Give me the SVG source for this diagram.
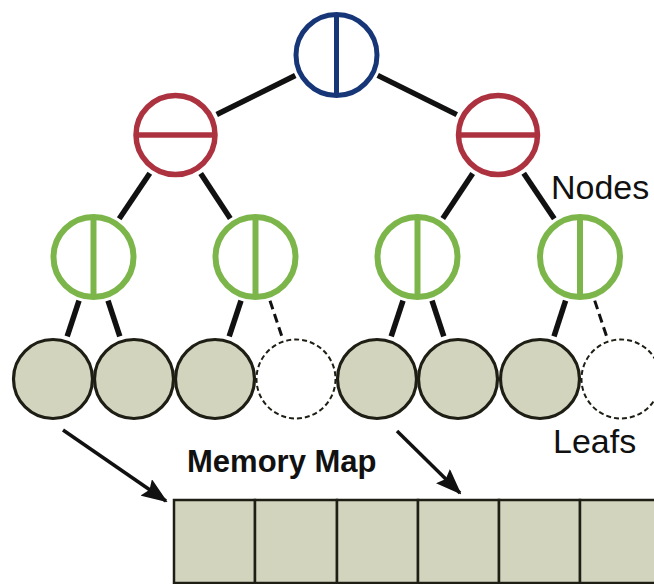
<svg xmlns="http://www.w3.org/2000/svg" width="654" height="584" viewBox="0 0 654 584">
  <style>
    .edge { stroke: #111; stroke-width: 5.5; fill: none; stroke-linecap: butt; }
    .edge.dash { stroke-width: 3; stroke-dasharray: 9 5; }
    .root { fill: #fff; stroke: #173678; stroke-width: 5; }
    .mid { fill: #fff; stroke: #ad323f; stroke-width: 5.5; }
    .low { fill: #fff; stroke: #7cb64a; stroke-width: 6; }
    .leaf { fill: #d3d4be; stroke: #1e1e14; stroke-width: 3.2; }
    .leaf.empty { fill: #fff; stroke-width: 2; stroke-dasharray: 5 3; }
    .cell { fill: #d3d4be; stroke: #1e1e14; stroke-width: 2.5; }
    .arrow { stroke: #111; stroke-width: 3.5; fill: none; marker-end: url(#head); }
    .label { font-family: "Liberation Sans", Arial, sans-serif; fill: #111; }
  </style>
  <defs>
    <marker id="head" viewBox="0 0 26 20" refX="24" refY="10" markerWidth="26" markerHeight="20" orient="auto" markerUnits="userSpaceOnUse">
      <path d="M0,0 L26,10 L0,20 L4,10 Z" fill="#111"/>
    </marker>
  </defs>

  <rect width="654" height="584" fill="#fff"/>

  <!-- tree edges -->
  <g id="connectors">
    <line class="edge" x1="295.3" y1="75.5" x2="216.7" y2="114.5"/>
    <line class="edge" x1="377.7" y1="75.4" x2="456.8" y2="114.6"/>
    <line class="edge" x1="149.8" y1="173.2" x2="119.2" y2="218.8"/>
    <line class="edge" x1="200.7" y1="173.5" x2="230.3" y2="218.5"/>
    <line class="edge" x1="472.7" y1="173.4" x2="442.8" y2="218.6"/>
    <line class="edge" x1="523.7" y1="173.2" x2="554.3" y2="218.8"/>
    <line class="edge" x1="79" y1="300.7" x2="67.2" y2="336.3"/>
    <line class="edge" x1="108" y1="300.7" x2="119.8" y2="336.3"/>
    <line class="edge" x1="241" y1="300.7" x2="229.2" y2="336.3"/>
    <line class="edge dash" x1="270" y1="300.7" x2="281.8" y2="336.3"/>
    <line class="edge" x1="403" y1="300.7" x2="391.2" y2="336.3"/>
    <line class="edge" x1="432" y1="300.7" x2="443.8" y2="336.3"/>
    <line class="edge" x1="565.6" y1="300.7" x2="554" y2="336.3"/>
    <line class="edge dash" x1="594.7" y1="300.6" x2="606.6" y2="336.3"/>
    <line class="arrow" x1="63" y1="430" x2="166" y2="501"/>
    <line class="arrow" x1="397" y1="431" x2="460" y2="493"/>
  </g>

  <!-- root -->
  <g id="root">
    <circle class="root" cx="336.5" cy="55" r="40.5"/>
    <line class="root" x1="336.5" y1="14.5" x2="336.5" y2="95.5"/>
  </g>

  <!-- second level -->
  <g id="node-l">
    <circle class="mid" cx="175.5" cy="135" r="39.5"/>
    <line class="mid" x1="136" y1="135" x2="215" y2="135"/>
  </g>
  <g id="node-r">
    <circle class="mid" cx="498" cy="135" r="39.5"/>
    <line class="mid" x1="458.5" y1="135" x2="537.5" y2="135"/>
  </g>

  <!-- third level -->
  <g id="node-ll">
    <circle class="low" cx="93.5" cy="257" r="40"/>
    <line class="low" x1="93.5" y1="217" x2="93.5" y2="297"/>
  </g>
  <g id="node-lr">
    <circle class="low" cx="255.5" cy="257" r="40"/>
    <line class="low" x1="255.5" y1="217" x2="255.5" y2="297"/>
  </g>
  <g id="node-rl">
    <circle class="low" cx="417.5" cy="257" r="40"/>
    <line class="low" x1="417.5" y1="217" x2="417.5" y2="297"/>
  </g>
  <g id="node-rr">
    <circle class="low" cx="580" cy="257" r="40"/>
    <line class="low" x1="580" y1="217" x2="580" y2="297"/>
  </g>

  <!-- leaves -->
  <g id="leaf-0"><circle class="leaf" cx="53" cy="379" r="39.5"/></g>
  <g id="leaf-1"><circle class="leaf" cx="134" cy="379" r="39.5"/></g>
  <g id="leaf-2"><circle class="leaf" cx="215" cy="379" r="39.5"/></g>
  <g id="leaf-3"><circle class="leaf empty" cx="296" cy="379" r="39.5"/></g>
  <g id="leaf-4"><circle class="leaf" cx="377" cy="379" r="39.5"/></g>
  <g id="leaf-5"><circle class="leaf" cx="458" cy="379" r="39.5"/></g>
  <g id="leaf-6"><circle class="leaf" cx="540" cy="379" r="39.5"/></g>
  <g id="leaf-7"><circle class="leaf empty" cx="621" cy="379" r="39.5"/></g>

  <!-- memory map -->
  <g id="memory-map">
    <rect class="cell" x="174" y="500" width="81" height="83"/>
    <rect class="cell" x="255" y="500" width="82" height="83"/>
    <rect class="cell" x="337" y="500" width="81" height="83"/>
    <rect class="cell" x="418" y="500" width="81" height="83"/>
    <rect class="cell" x="499" y="500" width="81" height="83"/>
    <rect class="cell" x="580" y="500" width="81" height="83"/>
  </g>

  <!-- labels -->
  <text class="label" x="551" y="199" font-size="34">Nodes</text>
  <text class="label" x="553" y="453" font-size="34">Leafs</text>
  <text class="label" x="187" y="472" font-size="31" font-weight="bold">Memory Map</text>
</svg>
